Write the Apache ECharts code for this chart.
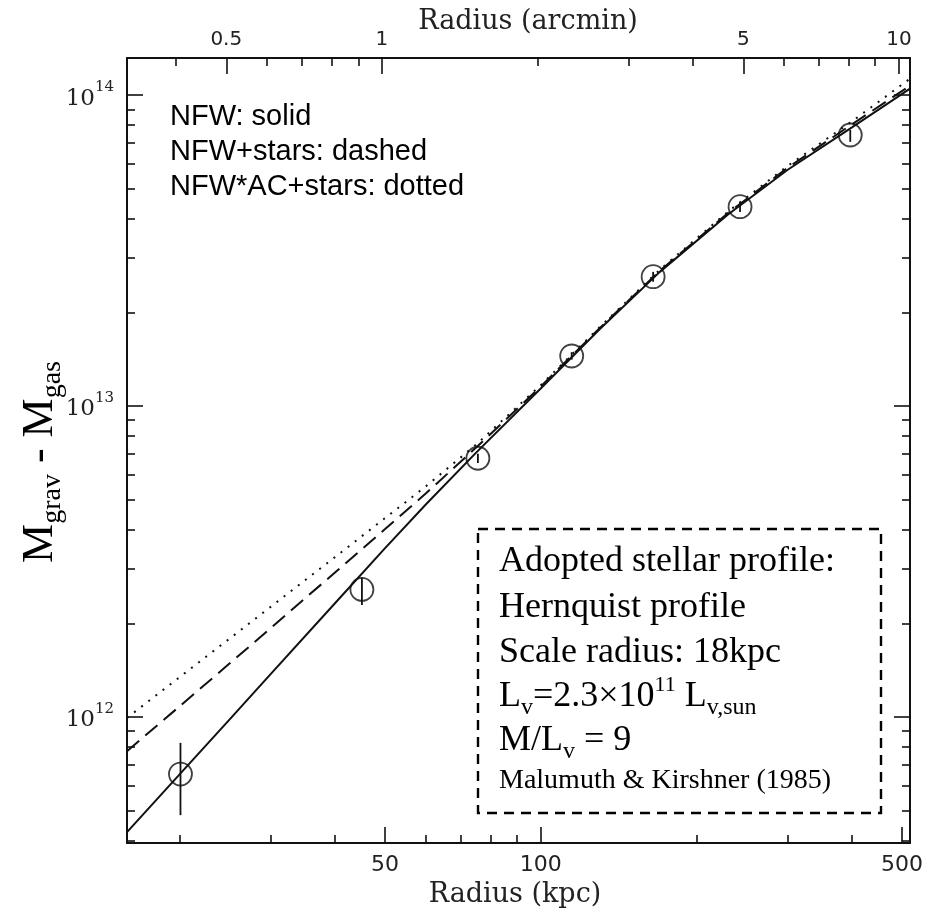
<!DOCTYPE html>
<html><head><meta charset="utf-8">
<script src="https://cdn.jsdelivr.net/npm/echarts@6/dist/echarts.min.js"></script>
<style>html,body{margin:0;padding:0;background:#fff}#c{width:937px;height:917px}</style>
</head><body><div id="c"></div>
<script>
// ---- data ----
const kpcModel = [15.84, 20, 25, 30, 40, 50, 60, 75, 100, 130, 170, 230, 300, 400, 518];
const nfwSolid = [4.26e11, 6.52e11, 9.8e11, 1.37e12, 2.32e12, 3.49e12, 4.83e12, 7.08e12, 1.138e13, 1.766e13, 2.70e13, 4.12e13, 5.74e13, 7.87e13, 1.049e14];
const nfwStarsDashed = [7.76e11, 1.08e12, 1.484e12, 1.926e12, 2.914e12, 4.02e12, 5.24e12, 7.35e12, 1.155e13, 1.779e13, 2.723e13, 4.165e13, 5.83e13, 8.05e13, 1.072e14];
const nfwACStarsDotted = [9.93e11, 1.34e12, 1.784e12, 2.255e12, 3.265e12, 4.36e12, 5.52e12, 7.51e12, 1.167e13, 1.792e13, 2.744e13, 4.21e13, 5.91e13, 8.23e13, 1.129e14];

const obsRadius = [20.1, 45.1, 75.6, 114.8, 165, 243, 397];
const obsMass = [6.55e11, 2.57e12, 6.79e12, 1.448e13, 2.605e13, 4.375e13, 7.44e13];
const obsLow  = [4.83e11, 2.29e12, 6.56e12, 1.41e13, 2.51e13, 4.21e13, 7.07e13];
const obsHigh = [8.25e11, 2.81e12, 7.02e12, 1.49e13, 2.70e13, 4.53e13, 7.72e13];

const kpcMin = 15.84, kpcMax = 518;
const massMin = 3.93e11, massMax = 1.316e14;
const KPC_PER_ARCMIN = 49.3;

const kpcMajor = [50, 100, 500];
const kpcMinor = [20, 30, 40, 60, 70, 80, 90, 200, 300, 400];
const arcMajor = [0.5, 1, 5, 10];
const arcMinor = [0.4, 0.6, 0.7, 0.8, 0.9, 2, 3, 4, 6, 7, 8, 9];
const massMajor = [1e12, 1e13, 1e14];
const massMinor = [4e11, 5e11, 6e11, 7e11, 8e11, 9e11, 2e12, 3e12, 4e12, 5e12, 6e12, 7e12, 8e12, 9e12, 2e13, 3e13, 4e13, 5e13, 6e13, 7e13, 8e13, 9e13];

const legendLines = ['NFW: solid', 'NFW+stars: dashed', 'NFW*AC+stars: dotted'];

// ---- chart ----
const INK = '#111';
function xAx(pos, min, max, ticks, len, showLine, showLabel) {
  return {
    type: 'log', logBase: 10, position: pos, min: min, max: max,
    axisLine: { show: showLine, lineStyle: { color: INK, width: 2 } },
    splitLine: { show: false },
    axisTick: { show: true, inside: true, length: len, customValues: ticks, lineStyle: { color: INK, width: 1.6 } },
    axisLabel: {
      show: showLabel, customValues: ticks, margin: pos === 'top' ? 8 : 11,
      color: '#222', fontFamily: 'DejaVu Sans', fontSize: pos === 'top' ? 20 : 22,
      formatter: v => String(+v.toPrecision(3))
    }
  };
}
function yAx(pos, ticks, len, showLine, showLabel) {
  return {
    type: 'log', logBase: 10, position: pos, min: massMin, max: massMax,
    axisLine: { show: showLine, lineStyle: { color: INK, width: 2 } },
    splitLine: { show: false },
    axisTick: { show: true, inside: true, length: len, customValues: ticks, lineStyle: { color: INK, width: 1.6 } },
    axisLabel: {
      show: showLabel, customValues: ticks, margin: 13,
      formatter: v => '{b|10}{s|' + Math.round(Math.log10(v)) + '}',
      rich: {
        b: { fontFamily: 'DejaVu Serif', fontSize: 23, color: '#222', lineHeight: 30, verticalAlign: 'bottom' },
        s: { fontFamily: 'DejaVu Serif', fontSize: 15, color: '#222', lineHeight: 22, verticalAlign: 'top' }
      }
    }
  };
}

const boxRich = {
  n: { fontFamily: 'Liberation Serif', fontSize: 36, lineHeight: 46, verticalAlign: 'middle', fill: '#000' },
  sub: { fontFamily: 'Liberation Serif', fontSize: 24, lineHeight: 24, verticalAlign: 'bottom', fill: '#000' },
  sup: { fontFamily: 'Liberation Serif', fontSize: 22, lineHeight: 36, verticalAlign: 'top', fill: '#000' },
  r: { fontFamily: 'Liberation Serif', fontSize: 28, lineHeight: 36, verticalAlign: 'middle', fill: '#000' }
};
const boxLines = [
  ['{n|Adopted stellar profile:}', 539],
  ['{n|Hernquist profile}', 585],
  ['{n|Scale radius: 18kpc}', 630],
  ['{n|L}{sub|v}{n|=2.3×10}{sup|11}{n| L}{sub|v,sun}', 674],
  ['{n|M/L}{sub|v}{n| = 9}', 718],
  ['{r|Malumuth & Kirshner (1985)}', 763]
];

const graphics = [];
// y-axis title
graphics.push({
  type: 'text', x: 40, y: 462, rotation: Math.PI / 2, silent: true,
  style: {
    text: '{m|M}{s|grav}{m| - M}{s|gas}', align: 'center', verticalAlign: 'middle',
    rich: {
      m: { fontFamily: 'Liberation Serif', fontSize: 44, lineHeight: 54, verticalAlign: 'middle', fill: '#000' },
      s: { fontFamily: 'Liberation Serif', fontSize: 28, lineHeight: 28, verticalAlign: 'bottom', fill: '#000' }
    }
  }
});
// x-axis titles
graphics.push({ type: 'text', x: 515, y: 895, silent: true,
  style: { text: 'Radius (kpc)', fontFamily: 'DejaVu Serif', fontSize: 27, fill: '#222', align: 'center', verticalAlign: 'middle' } });
graphics.push({ type: 'text', x: 528, y: 22, silent: true,
  style: { text: 'Radius (arcmin)', fontFamily: 'DejaVu Serif', fontSize: 27, fill: '#222', align: 'center', verticalAlign: 'middle' } });
// legend text
legendLines.forEach((t, i) => graphics.push({ type: 'text', x: 170, y: 117 + 35 * i, silent: true,
  style: { text: t, fontFamily: 'Liberation Sans', fontSize: 29, fill: '#000', align: 'left', verticalAlign: 'middle' } }));
// annotation box
graphics.push({ type: 'rect', silent: true, shape: { x: 478, y: 529, width: 403, height: 284 },
  style: { fill: '#fff', stroke: '#000', lineWidth: 2.4, lineDash: [10, 7] } });
boxLines.forEach(([t, y]) => graphics.push({ type: 'text', x: 499, y: y, silent: true,
  style: { text: t, rich: boxRich, align: 'left', verticalAlign: 'top' } }));

const option = {
  animation: false,
  backgroundColor: '#fff',
  grid: { left: 127, right: 27, top: 58, bottom: 74, containLabel: false, outerBoundsMode: 'none' },
  xAxis: [
    xAx('bottom', kpcMin, kpcMax, kpcMajor, 16, true, true),
    xAx('bottom', kpcMin, kpcMax, kpcMinor, 8, false, false),
    xAx('top', kpcMin / KPC_PER_ARCMIN, kpcMax / KPC_PER_ARCMIN, arcMajor, 16, true, true),
    xAx('top', kpcMin / KPC_PER_ARCMIN, kpcMax / KPC_PER_ARCMIN, arcMinor, 8, false, false)
  ],
  yAxis: [
    yAx('left', massMajor, 16, true, true),
    yAx('left', massMinor, 8, false, false),
    yAx('right', massMajor, 16, true, false),
    yAx('right', massMinor, 8, false, false)
  ],
  graphic: { elements: graphics },
  series: [
    { type: 'line', name: 'NFW', xAxisIndex: 0, yAxisIndex: 0, showSymbol: false, smooth: false,
      data: kpcModel.map((k, i) => [k, nfwSolid[i]]), lineStyle: { color: INK, width: 2 }, z: 3 },
    { type: 'line', name: 'NFW+stars', xAxisIndex: 0, yAxisIndex: 0, showSymbol: false, smooth: false,
      data: kpcModel.map((k, i) => [k, nfwStarsDashed[i]]), lineStyle: { color: INK, width: 2, type: [16, 8] }, z: 2 },
    { type: 'line', name: 'NFW*AC+stars', xAxisIndex: 0, yAxisIndex: 0, showSymbol: false, smooth: false,
      data: kpcModel.map((k, i) => [k, nfwACStarsDotted[i]]), lineStyle: { color: INK, width: 2, type: [2, 7] }, z: 2 },
    { type: 'custom', name: 'errors', xAxisIndex: 0, yAxisIndex: 0, z: 4,
      data: obsRadius.map((r, i) => [r, obsLow[i], obsHigh[i]]),
      encode: { x: 0, y: [1, 2] },
      renderItem: (params, api) => {
        const a = api.coord([api.value(0), api.value(1)]);
        const b = api.coord([api.value(0), api.value(2)]);
        return { type: 'line', shape: { x1: a[0], y1: a[1], x2: b[0], y2: b[1] }, style: { stroke: INK, lineWidth: 1.8 } };
      } },
    { type: 'scatter', name: 'data', xAxisIndex: 0, yAxisIndex: 0, z: 5, symbol: 'circle', symbolSize: 23,
      data: obsRadius.map((r, i) => [r, obsMass[i]]),
      itemStyle: { color: 'rgba(0,0,0,0)', borderColor: INK, borderWidth: 1.8 } }
  ]
};
const chart = echarts.init(document.getElementById('c'), null, { renderer: 'canvas' });
chart.setOption(option);
</script>
</body></html>
